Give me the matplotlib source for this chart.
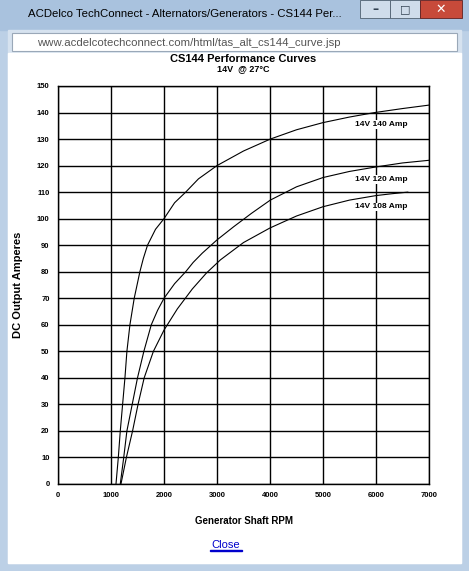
import matplotlib
matplotlib.use("Agg")
import matplotlib.pyplot as plt
from matplotlib.patches import Rectangle

rpm_140 = [1094, 1138, 1175, 1219, 1263, 1300, 1357, 1438, 1545, 1610, 1689, 1840, 2000, 2200, 2409, 2650, 3000, 3500, 4006, 4500, 5000, 5500, 5978, 6500, 7000]
amp_140 = [0, 10, 20, 30, 40, 50, 60, 70, 80, 85, 90, 96, 100, 106, 110, 115, 120, 125.5, 130, 133.5, 136.2, 138.3, 140, 141.5, 142.8]
rpm_120 = [1175, 1240, 1300, 1400, 1500, 1620, 1760, 1880, 2000, 2200, 2409, 2550, 2722, 3000, 3317, 3650, 4006, 4500, 5000, 5500, 6000, 6500, 7000]
amp_120 = [0, 10, 20, 30, 40, 50, 60, 65.5, 70, 75.5, 80, 83.5, 87, 92, 97, 102, 107, 112, 115.5, 117.8, 119.5, 121, 122]
rpm_108 = [1188, 1290, 1407, 1510, 1626, 1800, 2000, 2252, 2534, 2800, 3066, 3500, 4000, 4500, 5000, 5500, 6000, 6300, 6600]
amp_108 = [0, 10, 20, 30, 40, 50, 58, 66, 73.5, 79.5, 84.5, 91, 96.5, 101, 104.5, 107, 108.7, 109.4, 110]
labels = ["14V 140 Amp", "14V 120 Amp", "14V 108 Amp"]
label_y = [135.5, 114.7, 104.5]
xticks = list(range(0, 7001, 1000))
yticks = list(range(0, 151, 10))

W, H = 469, 571
fig = plt.figure(figsize=(W/100, H/100), dpi=100)
fig.patch.set_facecolor("#bcd0e6")
def px(x, y, w, h, **kw):
    fig.patches.append(Rectangle((x/W, 1-(y+h)/H), w/W, h/H, transform=fig.transFigure, zorder=-10, **kw))
px(0, 0, W, 30, color="#a9c2de")
px(8, 30, 453, 533, color="#d6e2ef")
px(12, 33, 445, 18, facecolor="white", edgecolor="#9aa8b8", lw=0.8)
px(8, 53, 453, 510, color="white")
px(360, 0, 30, 18, facecolor="#cfdcea", edgecolor="#506070", lw=0.6)
px(390, 0, 30, 18, facecolor="#cfdcea", edgecolor="#506070", lw=0.6)
px(420, 0, 42, 18, facecolor="#c74a3a", edgecolor="#602020", lw=0.6)
fig.text(441/W, 1-9/H, "✕", color="white", fontsize=9, ha="center", va="center", fontweight="bold")
fig.text(375/W, 1-9/H, "–", color="#304050", fontsize=9, ha="center", va="center", fontweight="bold")
fig.text(405/W, 1-9/H, "□", color="#304050", fontsize=8, ha="center", va="center")
fig.text(28/W, 1-14/H, "ACDelco TechConnect - Alternators/Generators - CS144 Per...", fontsize=8.2, va="center", family="Liberation Sans")
fig.text(37/W, 1-43/H, "www.acdelcotechconnect.com/html/tas_alt_cs144_curve.jsp", fontsize=8.2, va="center", color="#555555", family="Liberation Sans")
fig.text(243/W, 1-59/H, "CS144 Performance Curves", fontsize=8, ha="center", va="center", fontweight="bold", family="Liberation Sans")
fig.text(243/W, 1-69/H, "14V  @ 27°C", fontsize=6.5, ha="center", va="center", fontweight="bold", family="Liberation Sans")

ax = fig.add_axes([58/W, 1-484/H, 371/W, 398/H])
ax.set_zorder(5)
ax.set_xlim(0, 7000)
ax.set_ylim(0, 150)
ax.set_xticks(xticks)
ax.set_yticks(yticks)
ax.grid(True, color="black", lw=1)
ax.set_axisbelow(True)
ax.tick_params(length=0, labelsize=5.5, pad=6)
for t in ax.get_xticklabels() + ax.get_yticklabels():
    t.set_fontweight("bold"); t.set_family("Liberation Sans")
for s in ax.spines.values():
    s.set_linewidth(1)
for r, a in [(rpm_140, amp_140), (rpm_120, amp_120), (rpm_108, amp_108)]:
    ax.plot(r, a, color="black", lw=0.8)
for l, y in zip(labels, label_y):
    ax.text(5600, y, l, fontsize=6, fontweight="bold", family="Liberation Sans", va="center",
            bbox=dict(facecolor="white", edgecolor="none", pad=0.5))
ax.set_xlabel("Generator Shaft RPM", fontsize=7, fontweight="bold", family="Liberation Sans", labelpad=12)
ax.set_ylabel("DC Output Amperes", fontsize=8, fontweight="bold", family="Liberation Sans", labelpad=10)
fig.text(226/W, 1-545/H, "Close", fontsize=8, color="#0000cc", ha="center", va="center", family="Liberation Sans")
px(210, 550, 32, 0.8, color="#0000cc")
fig.savefig("out.png", dpi=100)
